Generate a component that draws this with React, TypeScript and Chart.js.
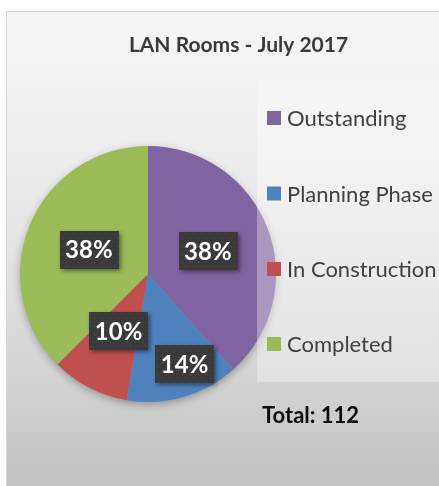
import React, { useEffect, useRef } from "react";
import { Chart, registerables } from "chart.js";

Chart.register(...registerables);

const categories = ["Outstanding", "Planning Phase", "In Construction", "Completed"];
const roomCounts = [43, 16, 11, 42];
const sliceColors = ["#8064A2", "#4F81BD", "#C0504D", "#9BBB59"];
const chartTitle = "LAN Rooms - July 2017";
const totalLabel = "Total: ";

const FONT = "Lato, 'Liberation Sans', sans-serif";

function makeDotPattern(ctx: CanvasRenderingContext2D) {
  const c = document.createElement("canvas");
  c.width = 8;
  c.height = 8;
  const p = c.getContext("2d")!;
  p.fillStyle = "#3a3a3a";
  p.fillRect(0, 0, 8, 8);
  p.fillStyle = "#555555";
  p.fillRect(2, 2, 1, 1);
  p.fillRect(6, 6, 1, 1);
  return ctx.createPattern(c, "repeat");
}

const backgroundPlugin = {
  id: "bgPlugin",
  beforeDraw(chart: any) {
    const ctx = chart.ctx as CanvasRenderingContext2D;
    const W = chart.width;
    const H = chart.height;
    ctx.save();
    ctx.fillStyle = "#ffffff";
    ctx.fillRect(0, 0, W, H);
    const g = ctx.createLinearGradient(0, 11, 0, H);
    g.addColorStop(0, "#f6f6f6");
    g.addColorStop(0.35, "#ececec");
    g.addColorStop(0.65, "#dcdcdc");
    g.addColorStop(1, "#c3c3c3");
    ctx.fillStyle = g;
    ctx.fillRect(6, 11, W - 6, H - 11);
    ctx.strokeStyle = "#d8d8d8";
    ctx.lineWidth = 1;
    ctx.beginPath();
    ctx.moveTo(6.5, H);
    ctx.lineTo(6.5, 11.5);
    ctx.lineTo(W, 11.5);
    ctx.stroke();
    ctx.restore();
  },
  beforeDatasetsDraw(chart: any) {
    const ctx = chart.ctx as CanvasRenderingContext2D;
    const arc = chart.getDatasetMeta(0).data[0];
    if (!arc) return;
    const { x, y, outerRadius } = arc.getProps(["x", "y", "outerRadius"], true);
    ctx.save();
    ctx.shadowColor = "rgba(0,0,0,0.35)";
    ctx.shadowBlur = 10;
    ctx.shadowOffsetY = 3;
    ctx.fillStyle = "#999";
    ctx.beginPath();
    ctx.arc(x, y, outerRadius - 1, 0, Math.PI * 2);
    ctx.fill();
    ctx.restore();
  },
};

const overlayPlugin = {
  id: "overlayPlugin",
  afterDatasetsDraw(chart: any) {
    const ctx = chart.ctx as CanvasRenderingContext2D;
    const W = chart.width;
    ctx.save();
    // legend panel
    ctx.fillStyle = "rgba(255,255,255,0.33)";
    ctx.fillRect(257, 80, W - 257, 302);

    // legend items
    const labels: string[] = chart.data.labels;
    const colors: string[] = chart.data.datasets[0].backgroundColor;
    const ys = [118, 193.5, 269, 344];
    ctx.font = `22px ${FONT}`;
    ctx.textBaseline = "middle";
    ctx.textAlign = "left";
    labels.forEach((lab, i) => {
      ctx.fillStyle = colors[i];
      ctx.fillRect(267, ys[i] - 7, 14, 14);
      ctx.fillStyle = "#404040";
      ctx.fillText(lab, 287, ys[i] + 1);
    });

    // title
    ctx.font = `bold 21px ${FONT}`;
    ctx.textAlign = "center";
    ctx.fillStyle = "#3a3a3a";
    ctx.fillText(chartTitle, 238.5, 45);

    // total
    const values: number[] = chart.data.datasets[0].data;
    const total = values.reduce((a, b) => a + b, 0);
    ctx.font = `bold 22px ${FONT}`;
    ctx.textAlign = "left";
    ctx.fillStyle = "#0d0d0d";
    ctx.fillText(totalLabel + total, 262, 416);

    // data labels
    const meta = chart.getDatasetMeta(0);
    const fracs = [0.5, 0.76, 0.5, 0.5];
    const offs = [0, -6, 0, 0];
    const pattern = makeDotPattern(ctx);
    ctx.font = `bold 24px ${FONT}`;
    meta.data.forEach((arc: any, i: number) => {
      const { x, y, startAngle, endAngle, outerRadius } = arc.getProps(
        ["x", "y", "startAngle", "endAngle", "outerRadius"],
        true
      );
      const mid = (startAngle + endAngle) / 2 + (offs[i] * Math.PI) / 180;
      const r = outerRadius * fracs[i];
      const cx = x + Math.cos(mid) * r;
      const cy = y + Math.sin(mid) * r;
      const txt = Math.round((values[i] / total) * 100) + "%";
      const tw = ctx.measureText(txt).width;
      const bw = tw + 11;
      const bh = 38;
      ctx.save();
      ctx.shadowColor = "rgba(0,0,0,0.45)";
      ctx.shadowBlur = 4;
      ctx.shadowOffsetX = 2;
      ctx.shadowOffsetY = 2;
      ctx.fillStyle = pattern || "#3a3a3a";
      ctx.fillRect(Math.round(cx - bw / 2), Math.round(cy - bh / 2), Math.round(bw), bh);
      ctx.restore();
      ctx.fillStyle = "#ffffff";
      ctx.textAlign = "center";
      ctx.textBaseline = "middle";
      ctx.fillText(txt, cx, cy + 1);
    });
    ctx.restore();
  },
};

export default function App() {
  const canvasRef = useRef<HTMLCanvasElement | null>(null);

  useEffect(() => {
    document.body.style.margin = "0";
    const canvas = canvasRef.current;
    if (!canvas) return;
    const chart = new Chart(canvas, {
      type: "pie",
      data: {
        labels: categories,
        datasets: [
          {
            data: roomCounts,
            backgroundColor: sliceColors,
            borderWidth: 0,
          },
        ],
      },
      options: {
        responsive: false,
        animation: false,
        devicePixelRatio: 1,
        layout: { padding: { left: 20, right: 163, top: 146, bottom: 84 } },
        plugins: {
          legend: { display: false },
          tooltip: { enabled: false },
          title: { display: false },
        },
      },
      plugins: [backgroundPlugin, overlayPlugin],
    });
    return () => chart.destroy();
  }, []);

  return (
    <div style={{ width: 439, height: 486 }}>
      <canvas ref={canvasRef} width={439} height={486} style={{ display: "block" }} />
    </div>
  );
}
